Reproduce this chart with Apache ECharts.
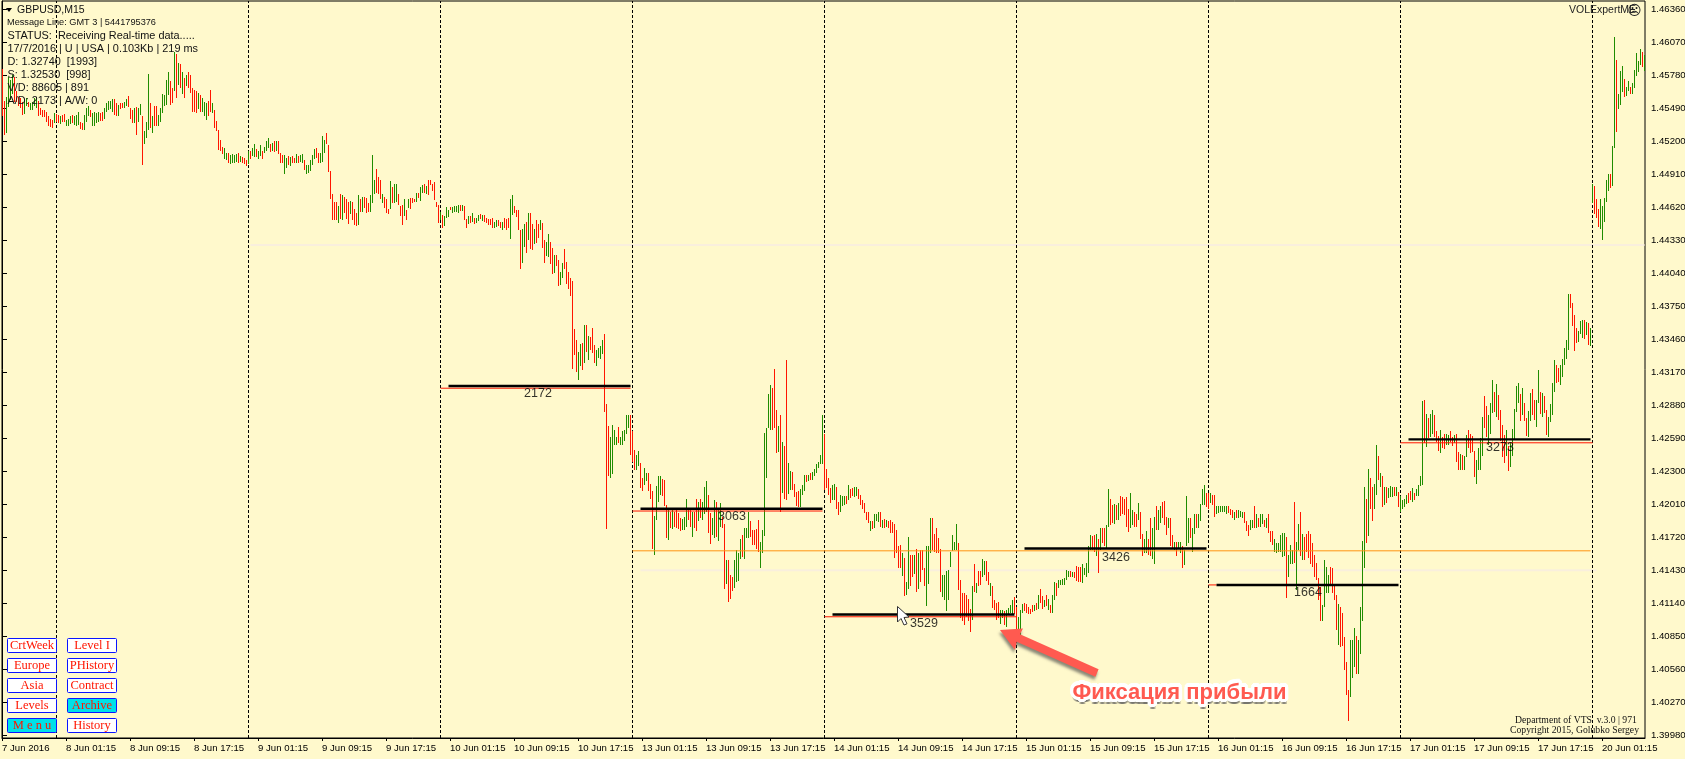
<!DOCTYPE html>
<html><head><meta charset="utf-8">
<style>html,body{margin:0;padding:0;background:#fff9cc}#c{width:1685px;height:759px}</style>
<script src="https://cdn.jsdelivr.net/npm/echarts@6/dist/echarts.min.js"></script>
</head><body><div id="c"></div>
<script>
// Prices are written as pips above 1.3900
const basePrice = 1.39;
const highPips = [
684,656,659,677,674,678,677,664,659,658,655,656,658,655,654,655,658,659,656,649,
648,648,646,642,640,639,645,644,643,642,643,644,639,640,642,643,642,643,646,637,
636,643,649,651,648,645,646,645,646,645,646,649,654,656,656,657,657,654,652,654,
654,655,657,660,649,648,649,650,649,653,642,629,637,679,654,642,651,651,643,649,
662,661,674,681,673,667,699,697,689,688,681,676,678,681,678,667,665,664,663,661,
658,655,654,656,665,654,648,638,630,621,615,614,610,610,608,609,608,609,610,607,
606,605,604,612,612,614,618,613,612,617,612,615,620,623,618,619,620,620,620,610,
608,608,605,607,606,607,605,609,607,608,609,604,599,599,604,608,613,614,610,610,
625,621,627,617,594,574,567,567,563,574,573,571,569,567,568,567,561,557,573,569,
571,571,570,566,573,608,586,596,589,586,574,571,569,561,585,580,583,583,574,563,
564,569,560,569,570,570,569,575,575,580,582,583,581,586,586,583,584,567,564,558,
555,554,562,560,562,562,563,563,564,564,564,563,552,554,554,557,553,553,555,556,
555,555,553,552,552,553,549,551,551,549,549,553,552,553,569,573,563,560,560,542,
543,547,549,557,557,547,543,551,547,551,548,533,532,539,532,526,520,520,516,505,
513,525,514,505,500,497,455,445,435,442,443,459,459,449,448,456,441,437,438,440,
445,451,389,370,360,371,366,360,369,360,365,366,379,379,379,365,349,344,348,337,
324,333,328,328,319,313,291,317,326,326,323,322,300,296,294,296,294,296,293,289,
288,290,306,297,296,294,294,306,303,306,303,316,321,309,293,289,305,303,296,302,
290,284,252,252,239,237,252,261,258,270,274,280,280,294,286,278,278,279,287,268,
278,364,368,398,406,403,420,384,370,379,356,352,428,337,330,329,319,312,313,314,
318,327,327,327,328,329,332,336,338,344,379,363,332,324,315,318,319,316,303,309,
308,308,308,318,314,315,316,316,314,309,305,302,294,294,286,286,292,292,294,294,
287,288,287,286,287,285,284,278,264,265,258,254,233,272,256,256,256,262,258,261,
261,245,264,264,289,289,275,280,271,262,239,239,242,243,259,274,268,284,267,234,
223,223,221,218,209,229,248,232,242,242,253,251,251,241,232,229,217,214,215,208,
208,207,208,210,212,217,219,211,202,208,213,214,213,211,209,212,212,214,221,226,
220,217,221,218,212,221,233,232,234,234,235,236,243,242,242,241,241,247,246,246,
248,245,249,264,274,273,274,275,270,280,280,280,283,314,306,300,301,300,302,308,
307,306,307,297,311,296,294,292,302,294,275,270,277,270,289,280,290,299,296,299,
303,304,290,289,289,274,268,268,268,268,264,261,308,289,289,280,292,292,292,301,
314,318,311,311,311,309,309,299,299,299,299,299,299,299,297,296,294,296,296,295,
294,294,286,283,287,287,299,292,289,292,292,287,289,292,277,277,270,267,267,274,
276,276,272,256,265,261,303,268,284,294,275,272,275,277,275,267,256,249,236,228,
212,252,246,239,246,245,231,221,213,211,205,184,162,138,182,182,192,185,182,211,
269,316,306,332,324,316,319,353,343,328,326,316,316,315,317,316,316,316,312,308,
305,306,309,311,313,315,311,314,318,326,392,393,380,377,380,384,379,365,361,366,
360,363,363,362,365,360,362,363,347,345,344,343,362,366,363,361,348,340,350,359,
378,396,387,379,390,410,400,407,397,384,371,362,366,352,355,367,385,405,408,398,
403,390,377,383,399,402,393,393,419,400,399,396,384,378,389,408,428,423,421,423,
429,438,445,486,486,478,467,456,453,462,463,463,461,460,456,583,581,569,561,569,
563,570,586,591,591,616,712,692,662,682,686,675,668,673,668,671,683,698,691,701,699,696];
const lowPips = [
643,626,627,651,656,661,655,654,651,649,644,645,651,651,648,648,651,649,643,643,
642,642,637,633,633,632,636,637,636,635,637,637,634,634,635,636,634,633,635,631,
630,630,637,642,642,634,634,636,637,638,638,639,646,648,649,646,643,643,642,649,
650,650,651,650,639,637,636,625,637,643,599,618,623,630,632,627,633,633,633,637,
645,651,652,661,652,654,665,658,670,667,662,658,668,667,662,646,646,645,649,646,
646,643,639,643,646,645,632,629,612,611,609,604,604,601,600,601,601,602,601,602,
601,600,599,601,605,607,607,606,605,607,605,610,611,614,611,612,610,611,609,601,
601,591,596,599,598,601,601,601,601,602,601,595,591,592,594,599,604,605,601,601,
602,610,617,593,569,551,551,551,548,552,551,557,551,548,557,551,547,546,547,558,
558,561,557,558,558,566,574,575,574,569,566,561,557,557,560,566,566,567,564,554,
546,554,551,561,560,566,566,567,571,568,575,575,574,573,582,577,568,563,548,551,
544,545,552,554,559,557,558,558,557,559,559,551,544,547,548,549,548,549,550,552,
550,549,549,547,547,544,544,545,546,544,542,544,542,544,534,555,557,554,542,508,
513,527,522,533,525,524,530,531,535,542,526,513,520,519,513,503,504,510,493,494,
500,507,495,490,484,420,432,417,410,423,419,426,435,428,437,434,425,423,429,429,
433,382,279,326,324,328,353,353,355,353,353,356,362,368,344,338,331,331,335,315,
313,318,321,312,306,262,257,287,303,309,308,299,271,270,280,279,281,280,279,278,
278,279,281,287,281,272,280,278,286,289,287,292,294,276,266,274,272,272,269,281,
280,227,231,215,218,225,227,233,233,252,255,253,271,271,272,265,265,261,259,245,
258,273,324,368,366,366,368,346,347,294,311,305,305,310,313,313,308,300,299,298,
309,313,321,322,322,322,326,328,333,336,336,314,315,309,302,305,305,297,292,294,
299,300,301,305,306,308,307,308,305,300,297,293,287,284,277,279,280,286,285,281,
280,280,281,280,276,275,254,258,245,245,238,221,222,226,229,237,239,224,226,233,
243,229,211,231,258,261,259,258,258,224,220,217,207,217,246,260,261,261,226,201,
198,195,202,199,189,199,223,223,229,230,237,239,233,230,221,210,208,199,201,196,
201,195,193,204,205,205,204,185,188,186,205,207,205,205,205,206,207,208,209,214,
209,211,211,208,205,205,217,221,227,230,230,230,234,237,237,237,236,234,233,233,
231,239,237,240,261,261,259,256,240,261,267,264,262,281,283,284,283,287,287,290,
292,292,281,277,280,283,281,281,287,270,256,258,258,256,256,253,249,278,278,284,
289,283,274,280,264,262,261,256,262,258,245,248,264,267,271,259,274,280,280,286,
300,300,299,297,302,300,290,292,293,294,294,294,292,293,292,289,287,289,289,290,
289,284,277,273,278,280,280,280,281,281,283,281,280,275,267,265,259,258,259,259,
255,256,218,237,248,249,249,226,261,255,252,252,259,253,249,246,237,234,217,198,
198,211,223,223,231,223,217,190,177,176,176,155,133,111,132,149,158,152,152,170,
199,245,267,273,297,286,297,309,322,316,299,300,302,306,307,307,308,308,299,294,
297,299,301,302,305,303,305,308,308,317,318,355,351,359,360,363,360,355,348,346,
350,350,353,353,355,352,355,338,331,331,331,331,343,350,346,347,325,319,331,331,
344,368,360,353,363,381,382,378,375,357,343,337,343,330,334,343,359,382,390,374,
379,374,361,360,374,379,375,369,390,381,378,381,362,360,373,380,400,407,409,405,
413,423,428,437,474,458,435,443,443,451,447,446,450,441,440,566,556,552,545,543,
533,549,567,576,579,581,614,629,649,652,663,659,660,664,662,661,667,678,681,687,686,682];
const barDirs = (
"RRGGGGRRRRRGGRGGGGRR"+"RRRRRRGRRGRRGGGRGGGR"+"RGGGRGGGGRRGGGGGRRGR"+"RGGRRRGRGGRGGGRGRRGG"+
"GGGGRRGRGRGRGRRRRRGR"+"GGGRRGRRRRRGGRGGGGRG"+"RRRGRGGRGGRGGGRGRGRR"+"RGGRGRRGRGGRGGGGGRRG"+
"GGRRRRRRGRGRRRGRRRGR"+"GRRRGGGRRRGRRRGRGGRR"+"RGRGRRRGRGGRGRRRRRRG"+"RGGGRGGGGRGRRGRGRGGR"+
"GRRRRRGGRRGRRRGGRRRR"+"GGRGRRGRRGRRGGRRGRRG"+"GRRRRRRRGGRGRGRRRGGG"+"GRRRGGGGRGGGGGRRRGGR"+
"RGGRRRGGGGRRRGRGRRRR"+"GGGRRGRRGRGGGRRGGRGG"+"RRGRRRGGGGRGGGRRRRRG"+"GGGGGRRRGRGRRGGRRRRG"+
"GGRGRGGGGGGRRRRGGRRG"+"GGRGRRGGRRRRRRGRGGGR"+"GRGRRRRRRRGRGGRRGRGR"+"RRGGGRRRRRGGGGGGGGRR"+
"RRRRRGRGRRGGRRGRRRRG"+"GRGGGGRRGGGRRRRRGRGR"+"RGRGRGGRGGGGGGRGRRRR"+"GGGGGRRGRGRRGGRRGRGR"+
"RRRRGGRRGRRGGRRGGRGG"+"RRRGRRGRGGRGGGRGGRGG"+"GGRRGRRGGGGGGRRRGRGG"+"GRRRGGRGRGGRGRRRGGGG"+
"GGRGGGRGGRGRRRRRRRRR"+"GGGGRRRRGRRRRRGGGRGG"+"GGRGRRGGRGRGRGGGRGRG"+"GGGRRGRGGGGRGRGGRRRG"+
"RRGGRRGRRGRGGRRRRGGG"+"GRRGGGRGRRRRGRGGGGGR"+"GRRGGRRGGRGRRGGGGRRG"+"GGGGRRRRGGGRGRGGRRRG"+
"GGGGRGGRGGGRGGRGGGGGRG").split("");
const xTickLabels = ["7 Jun 2016","8 Jun 01:15","8 Jun 09:15","8 Jun 17:15","9 Jun 01:15","9 Jun 09:15","9 Jun 17:15","10 Jun 01:15","10 Jun 09:15","10 Jun 17:15","13 Jun 01:15","13 Jun 09:15","13 Jun 17:15","14 Jun 01:15","14 Jun 09:15","14 Jun 17:15","15 Jun 01:15","15 Jun 09:15","15 Jun 17:15","16 Jun 01:15","16 Jun 09:15","16 Jun 17:15","17 Jun 01:15","17 Jun 09:15","17 Jun 17:15","20 Jun 01:15"];
const yTickLabels = ["1.39980","1.40270","1.40560","1.40850","1.41140","1.41430","1.41720","1.42010","1.42300","1.42590","1.42880","1.43170","1.43460","1.43750","1.44040","1.44330","1.44620","1.44910","1.45200","1.45490","1.45780","1.46070","1.46360"];
const daySeparators = [27,123,219,315,411,507,603,699,795];
// black levels: start bar, end bar, pips, volume label, label bar, label pips
const levelStart = [223,319,415,511,607,703];
const levelEnd   = [314,410,506,602,698,794];
const levelPips  = [405,297,204,262,230,358];
const levelValue = ["2172","3063","3529","3426","1664","3273"];
const levelLabelBar = [268,365,461,557,653,749];
const levelLabelPips= [398,290,196,254,223,351];
// red companions of the levels
const redStart = [219,315,411,603,699];
const redEnd   = [314,410,507,607,795];
const redPips  = [403,295,202,230,355];
const orangeLine = {start:315,end:794,pips:260};
const paleLines = [{start:124,end:821,pips:529},{start:319,end:797,pips:243}];
const buttons1 = ["CrtWeek","Europe","Asia","Levels","M e n u"];
const buttons2 = ["Level I","PHistory","Contract","Archive","History"];
const infoLines = ["STATUS:  Receiving Real-time data.....","17/7/2016 | U | USA | 0.103Kb | 219 ms","D: 1.32740  [1993]","S: 1.32530  [998]","V/D: 88605 | 891","A/D: 2173 | A/W: 0"];

const price = p => basePrice + p/10000;
const bars = highPips.map((h,i)=>[i+0.25, price(h), price(lowPips[i]), barDirs[i]==='G'?1:0]);
const UI = '"Liberation Sans"';
const flatLine = (s,e,p,color,width)=>({type:'line',showSymbol:false,silent:true,animation:false,
  data:[[s+0.25,price(p)],[e+0.25,price(p)]],lineStyle:{color,width},z:4});
const series = [];
series.push({type:'custom',silent:true,animation:false,z:3,clip:true,
  data:bars,encode:{x:0,y:[1,2]},
  renderItem(params,api){
    const a=api.coord([api.value(0),api.value(1)]),b=api.coord([api.value(0),api.value(2)]);
    return {type:'rect',shape:{x:Math.round(a[0]-0.5),y:Math.round(a[1]),width:1,height:Math.max(1,Math.round(b[1]-a[1]))},
      style:{fill:api.value(3)?'#1f8c00':'#ff1500'}};
  },
  markLine:{silent:true,symbol:'none',animation:false,label:{show:false},z:2,
    lineStyle:{color:'#000',type:[3,2],width:1},
    data:daySeparators.map(i=>({xAxis:i+0.25}))}
});
paleLines.forEach(l=>series.push(Object.assign(flatLine(l.start,l.end,l.pips,'#f9efdd',2),{z:1})));
series.push(flatLine(orangeLine.start,orangeLine.end,orangeLine.pips,'#ff9410',1));
redPips.forEach((p,i)=>series.push(flatLine(redStart[i],redEnd[i],p,'#ff1500',1)));
levelPips.forEach((p,i)=>series.push(flatLine(levelStart[i],levelEnd[i],p,'#000',2.4)));
series.push({type:'scatter',symbolSize:0,silent:true,animation:false,z:6,
  data:levelValue.map((v,i)=>({value:[levelLabelBar[i],price(levelLabelPips[i])],name:v})),
  label:{show:true,position:'inside',formatter:o=>o.name,color:'#000',fontFamily:UI,fontSize:12.5}});

const g=[];
// header & info text
g.push({type:'polygon',shape:{points:[[6,8],[12,8],[9,12]]},style:{fill:'#000'},z:20});
g.push({type:'text',x:17,y:5,style:{text:'GBPUSD,M15',font:'10.5px '+UI,fill:'#111'},z:20});
g.push({type:'text',x:7,y:18,style:{text:'Message Line: GMT 3 | 5441795376',font:'9.2px '+UI,fill:'#111'},z:20});
infoLines.forEach((t,i)=>g.push({type:'text',x:7.5,y:30+i*13,style:{text:t,font:'10.9px '+UI,fill:'#111'},z:20}));
// buttons
[buttons1,buttons2].forEach((col,c)=>col.forEach((t,r)=>{
  const x=7.5+c*60,y=638.5+r*20,cy=(c===0&&r===4)||(c===1&&r===3);
  g.push({type:'rect',shape:{x,y,width:49,height:14,r:1},style:{fill:cy?'#00e0e8':'#fff',stroke:'#0a14ff',lineWidth:1},z:20});
  g.push({type:'text',x:x+24.5,y:y+7.5,style:{text:t,font:'12.5px "Liberation Serif"',fill:'#ff1500',align:'center',verticalAlign:'middle'},z:21});
}));
// top right
g.push({type:'text',x:1569,y:5,style:{text:'VOLExpertME',font:'10.5px '+UI,fill:'#222'},z:20});
g.push({type:'text',x:1634.5,y:11,style:{text:'☹',font:'14px "DejaVu Sans"',fill:'#222',align:'center',verticalAlign:'middle'},z:20});
// copyright
g.push({type:'text',x:1515,y:715,style:{text:'Department of VTS  v.3.0 | 971',font:'9.7px "Liberation Serif"',fill:'#111'},z:20});
g.push({type:'text',x:1510,y:725.5,style:{text:'Copyright 2015, Golubko Sergey',font:'9.7px "Liberation Serif"',fill:'#111'},z:20});
// cursor
g.push({type:'polygon',shape:{points:[[897.5,606.5],[897.5,622],[901,618.5],[904,625],[907,623.8],[904,617.5],[909,617]]},style:{fill:'#fff',stroke:'#333',lineWidth:1},z:22});
// arrow and caption
g.push({type:'polygon',shape:{points:[[1000,630],[1023,628.5],[1020,634.3],[1098.6,669.3],[1095.4,676.7],[1016.7,641.7],[1015,650]]},
  style:{fill:'#ff5a50',shadowColor:'rgba(60,60,60,0.6)',shadowBlur:3,shadowOffsetX:-1,shadowOffsetY:3},z:23});
const caption='Фиксация прибыли',capFont='bold 22px '+UI,capX=1179.5,capY=692.5;
const capText=(dx,dy,fill,extra)=>({type:'text',x:capX+dx,y:capY+dy,style:Object.assign({text:caption,font:capFont,fill,align:'center',verticalAlign:'middle'},extra||{}),z:24});
[[0,5],[1,5.5],[2,5],[-1,5]].forEach(o=>g.push(capText(o[0],o[1],'rgba(90,90,90,0.35)')));
for(let k=0;k<16;k++){const a=k*Math.PI/8;g.push(capText(3.4*Math.cos(a),3.4*Math.sin(a),'#fff'));}
g.push(capText(0,0,'#ff5a50'));

const chart=echarts.init(document.getElementById('c'),null,{renderer:'canvas'});
chart.setOption({
  animation:false,backgroundColor:'#fff9cc',
  grid:{left:2,top:1,width:1643,height:737,show:true,borderColor:'#000',borderWidth:1,backgroundColor:'#fff9cc',containLabel:false,outerBoundsMode:'none'},
  xAxis:{type:'value',min:0,max:821.5,splitLine:{show:false},
    axisLine:{lineStyle:{color:'#000'}},
    axisTick:{length:3,lineStyle:{color:'#000'},customValues:xTickLabels.map((_,i)=>i*32)},
    axisLabel:{customValues:xTickLabels.map((_,i)=>i*32),formatter:v=>xTickLabels[v/32],align:'left',margin:5,color:'#000',fontFamily:UI,fontSize:9.6,hideOverlap:false,showMinLabel:true,showMaxLabel:true}},
  yAxis:{type:'value',position:'right',min:1.39954,max:1.46435,splitLine:{show:false},
    axisLine:{lineStyle:{color:'#000'}},
    axisTick:{length:5,lineStyle:{color:'#000'},customValues:yTickLabels.map(Number)},
    axisLabel:{customValues:yTickLabels.map(Number),formatter:v=>v.toFixed(5),margin:6,color:'#000',fontFamily:UI,fontSize:9.6,showMinLabel:true,showMaxLabel:true}},
  series,graphic:{elements:g}
});
</script></body></html>
